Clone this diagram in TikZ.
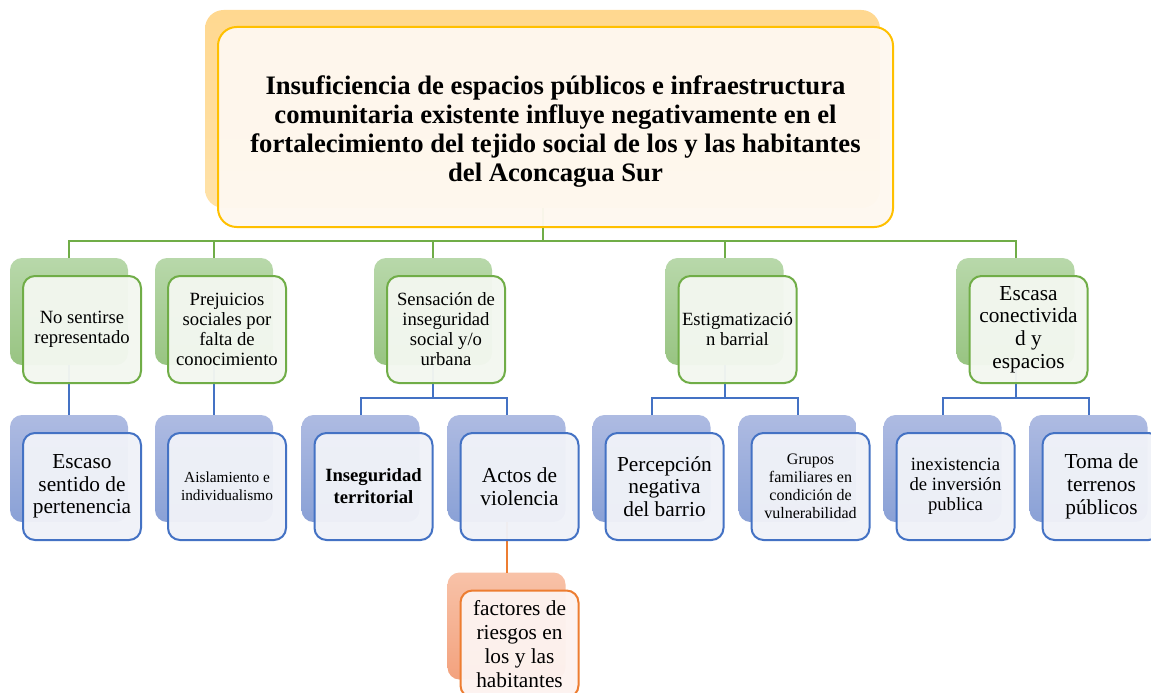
\documentclass[tikz,border=0pt]{standalone}
\usepackage{fontspec}
\setmainfont{Liberation Serif}
\definecolor{gcol}{HTML}{70AD47}
\definecolor{bcol}{HTML}{4472C4}
\definecolor{ocol}{HTML}{ED7D31}
\definecolor{ycol}{HTML}{FFC000}
\definecolor{gfill}{HTML}{F3F7F0}
\definecolor{bfill}{HTML}{F0F2F8}
\definecolor{ofill}{HTML}{FDF3F0}
\definecolor{yfill}{HTML}{FEF8F0}
\definecolor{gtop}{HTML}{B8D8AA}
\definecolor{gbot}{HTML}{98C482}
\definecolor{btop}{HTML}{AEBBE2}
\definecolor{bbot}{HTML}{8AA1D6}
\definecolor{otop}{HTML}{F8C2A8}
\definecolor{obot}{HTML}{F3A27E}
\definecolor{ytop}{HTML}{FFD890}
\definecolor{ybot}{HTML}{FFE2A8}
\begin{document}
\begin{tikzpicture}[x=0.75pt,y=-0.75pt,
  every node/.style={inner sep=0pt, outer sep=0pt},
  sbox/.style={rounded corners=9pt, minimum width=88.5pt, minimum height=80.25pt},
  gback/.style={sbox, top color=gtop, bottom color=gbot},
  bback/.style={sbox, top color=btop, bottom color=bbot},
  oback/.style={sbox, top color=otop, bottom color=obot},
  front/.style={sbox, line width=1.5pt, fill opacity=0.96, text opacity=1, align=center},
  gfront/.style={front, draw=gcol, fill=gfill},
  bfront/.style={front, draw=bcol, fill=bfill},
  ofront/.style={front, draw=ocol, fill=ofill},
  gline/.style={draw=gcol, line width=1.5pt},
  bline/.style={draw=bcol, line width=1.5pt},
  oline/.style={draw=ocol, line width=1.5pt},
  fa/.style={font=\fontsize{14}{15}\selectfont},
  fb/.style={font=\fontsize{16}{17}\selectfont},
  fc/.style={font=\fontsize{11.5}{13.5}\selectfont},
  fd/.style={font=\fontsize{12}{13.5}\selectfont},
]
\clip (0,0) rectangle (1151,692);
\fill[white] (0,0) rectangle (1151,692);
% top back node
\node[rounded corners=14pt, minimum width=506.25pt, minimum height=148.5pt, top color=ytop, bottom color=ybot] (topb) at (542.5,109) {};
% level 1 back nodes
\node[gback] (n1b) at (69,311.5) {};
\node[gback] (n2b) at (214,311.5) {};
\node[gback] (n3b) at (433,311.5) {};
\node[gback] (n4b) at (724.5,311.5) {};
\node[gback] (n5b) at (1015.5,311.5) {};
% level 2 back nodes
\node[bback] (b1b) at (69,468.5) {};
\node[bback] (b2b) at (214,468.5) {};
\node[bback] (b3b) at (360.5,468.5) {};
\node[bback] (b4b) at (506.5,468.5) {};
\node[bback] (b5b) at (651.5,468.5) {};
\node[bback] (b6b) at (797.5,468.5) {};
\node[bback] (b7b) at (942.5,468.5) {};
\node[bback] (b8b) at (1088.5,468.5) {};
\node[oback] (o1b) at (506.5,626) {};
% connectors
\foreach \n in {n1b,n2b,n3b,n4b,n5b}{\draw[gline] (topb.south) -- ++(0,33) -| (\n.north);}
\draw[bline] (n1b.south) -- (b1b.north);
\draw[bline] (n2b.south) -- (b2b.north);
\draw[bline] (n3b.south) -- ++(0,33) -| (b3b.north);
\draw[bline] (n3b.south) -- ++(0,33) -| (b4b.north);
\draw[bline] (n4b.south) -- ++(0,33) -| (b5b.north);
\draw[bline] (n4b.south) -- ++(0,33) -| (b6b.north);
\draw[bline] (n5b.south) -- ++(0,33) -| (b7b.north);
\draw[bline] (n5b.south) -- ++(0,33) -| (b8b.north);
\draw[oline] (b4b.south) -- (o1b.north);
% front nodes
\node[rounded corners=14pt, minimum width=506.25pt, minimum height=150pt, line width=1.5pt,
  draw=ycol, fill=yfill, fill opacity=0.96,
  label={[name=toptext, align=center, yshift=-3.75pt, font=\fontsize{20}{21.75}\selectfont\bfseries]center:{Insuficiencia de espacios públicos e infraestructura\\comunitaria existente influye negativamente en el\\fortalecimiento del tejido social de los y las habitantes\\del Aconcagua Sur}}] (top) at (555.5,127) {};
\node[gfront, fa] (n1) at (82,329.5) {No sentirse\\representado};
\node[gfront, fa] (n2) at (227,329.5) {Prejuicios\\sociales por\\falta de\\conocimiento};
\node[gfront, fa] (n3) at (446,329.5) {Sensación de\\inseguridad\\social y/o\\urbana};
\node[gfront, fa] (n4) at (737.5,329.5) {Estigmatizació\\n barrial};
\node[gfront, fb] (n5) at (1028.5,329.5) {Escasa\\conectivida\\d y\\espacios};
\node[bfront, fb] (b1) at (82,486.5) {Escaso\\sentido de\\pertenencia};
\node[bfront, fc] (b2) at (227,486.5) {Aislamiento e\\individualismo};
\node[bfront, font=\fontsize{14}{16.5}\selectfont\bfseries] (b3) at (373.5,486.5) {Inseguridad\\territorial};
\node[bfront, fb] (b4) at (519.5,486.5) {Actos de\\violencia};
\node[bfront, fb] (b5) at (664.5,486.5) {Percepción\\negativa\\del barrio};
\node[bfront, fd] (b6) at (810.5,486.5) {Grupos\\familiares en\\condición de\\vulnerabilidad};
\node[bfront, fa] (b7) at (955.5,486.5) {inexistencia\\de inversión\\publica};
\node[bfront, fb] (b8) at (1101.5,486.5) {Toma de\\terrenos\\públicos};
\node[ofront, font=\fontsize{16}{18}\selectfont] (o1) at (519.5,644) {factores de\\riesgos en\\los y las\\habitantes};
\end{tikzpicture}
\end{document}
